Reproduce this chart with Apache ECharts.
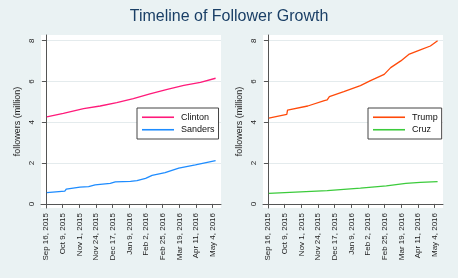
<!DOCTYPE html>
<html><head><meta charset="utf-8">
<script src="https://cdn.jsdelivr.net/npm/echarts@6/dist/echarts.min.js"></script>
<style>html,body{margin:0;padding:0;background:#EAF2F3}#c{width:458px;height:278px}</style>
</head><body><div id="c"></div>
<script>
const chartTitle = "Timeline of Follower Growth";
const yAxisTitle = "followers (million)";
const startDate = "2015-09-16";
const tickLabels = ["Sep 16, 2015","Oct 9, 2015","Nov 1, 2015","Nov 24, 2015","Dec 17, 2015","Jan 9, 2016","Feb 2, 2016","Feb 25, 2016","Mar 19, 2016","Apr 11, 2016","May 4, 2016"];
const tickStep = 23.1;
const yTicks = [0, 2, 4, 6, 8];

const clintonDates = ["2015-09-17","2015-10-10","2015-11-07","2015-11-30","2015-12-23","2016-01-15","2016-02-07","2016-03-02","2016-03-25","2016-04-17","2016-05-08"];
const clintonValues = [4.27, 4.44, 4.67, 4.80, 4.96, 5.16, 5.39, 5.62, 5.81, 5.96, 6.16];

const sandersDates = ["2015-09-17","2015-10-12","2015-10-14","2015-11-02","2015-11-14","2015-11-23","2015-12-14","2015-12-21","2016-01-11","2016-01-20","2016-02-01","2016-02-10","2016-02-28","2016-03-18","2016-04-10","2016-05-08"];
const sandersValues = [0.55, 0.63, 0.73, 0.82, 0.85, 0.93, 1.01, 1.08, 1.11, 1.14, 1.25, 1.40, 1.53, 1.75, 1.91, 2.12];

const trumpDates = ["2015-09-17","2015-10-12","2015-10-13","2015-11-10","2015-12-03","2015-12-07","2015-12-10","2015-12-30","2016-01-22","2016-02-05","2016-02-24","2016-03-04","2016-03-18","2016-03-29","2016-04-14","2016-04-28","2016-05-08"];
const trumpValues = [4.20, 4.39, 4.60, 4.80, 5.06, 5.10, 5.26, 5.50, 5.80, 6.04, 6.35, 6.68, 7.01, 7.33, 7.55, 7.74, 8.00];

const cruzDates = ["2015-09-17","2015-12-07","2016-01-22","2016-02-27","2016-03-25","2016-04-14","2016-05-08"];
const cruzValues = [0.52, 0.65, 0.77, 0.88, 1.01, 1.06, 1.09];

const seriesNames = ["Clinton", "Sanders", "Trump", "Cruz"];
const seriesColors = ["#FF1A7A", "#1E8CFF", "#FF4A0A", "#3CCB3C"];

function dayIndex(s) { return Math.round((Date.parse(s) - Date.parse(startDate)) / 86400000); }
function pairs(dates, vals) { return dates.map((d, i) => [dayIndex(d), vals[i]]); }
const xTickValues = tickLabels.map((_, i) => +(i * tickStep).toFixed(2));

const fontFamily = "Liberation Sans, Arial, sans-serif";
const axisColor = "#555";
const gridLeft = [41, 263];

function xAxis(gi) {
  return {
    type: "value", gridIndex: gi, min: -7, max: 242.5,
    axisLine: { show: true, lineStyle: { color: axisColor, width: 1 } },
    axisTick: { show: true, length: 4, customValues: xTickValues, lineStyle: { color: axisColor } },
    axisLabel: { customValues: xTickValues, rotate: 90, fontSize: 8, color: "#222", margin: 5, fontFamily,
      formatter: v => tickLabels[Math.round(v / tickStep)] },
    splitLine: { show: false }
  };
}
function yAxis(gi) {
  return {
    type: "value", gridIndex: gi, min: -0.2, max: 8.28,
    name: yAxisTitle, nameLocation: "middle", nameRotate: 90, nameGap: 19,
    nameTextStyle: { fontSize: 9, color: "#222", fontFamily },
    axisLine: { show: true, lineStyle: { color: axisColor, width: 1 } },
    axisTick: { show: true, length: 4, customValues: yTicks, lineStyle: { color: axisColor } },
    axisLabel: { customValues: yTicks, rotate: 90, fontSize: 8, color: "#222", margin: 5, fontFamily },
    splitLine: { show: true, lineStyle: { color: "#E4EBED", width: 1 } }
  };
}
function legend(names, left) {
  return {
    data: names, orient: "vertical", left: left, top: 108,
    icon: "rect", itemWidth: 32, itemHeight: 1.6, itemGap: 2,
    padding: [4, 4, 4, 5], borderColor: "#444", borderWidth: 1, backgroundColor: "#fff",
    textStyle: { fontSize: 9, color: "#111", fontFamily, lineHeight: 10.5, padding: [0, 0, 0, 2] }
  };
}
function line(idx, gi, data) {
  return {
    name: seriesNames[idx], type: "line", xAxisIndex: gi, yAxisIndex: gi, data,
    symbol: "none", smooth: false, color: seriesColors[idx],
    lineStyle: { width: 1.3, color: seriesColors[idx] }, animation: false
  };
}

const chart = echarts.init(document.getElementById("c"), null, { renderer: "canvas" });
chart.setOption({
  backgroundColor: "#EAF2F3",
  animation: false,
  title: { text: chartTitle, left: "center", top: 4,
    textStyle: { fontSize: 16, fontWeight: "normal", color: "#1A3F66", fontFamily } },
  grid: gridLeft.map(l => ({ left: l, top: 35, width: 180, height: 173, show: true, backgroundColor: "#fff", borderWidth: 0 })),
  xAxis: [xAxis(0), xAxis(1)],
  yAxis: [yAxis(0), yAxis(1)],
  legend: [legend(["Clinton", "Sanders"], 137), legend(["Trump", "Cruz"], 368)],
  series: [
    line(0, 0, pairs(clintonDates, clintonValues)),
    line(1, 0, pairs(sandersDates, sandersValues)),
    line(2, 1, pairs(trumpDates, trumpValues)),
    line(3, 1, pairs(cruzDates, cruzValues))
  ]
});
</script></body></html>
